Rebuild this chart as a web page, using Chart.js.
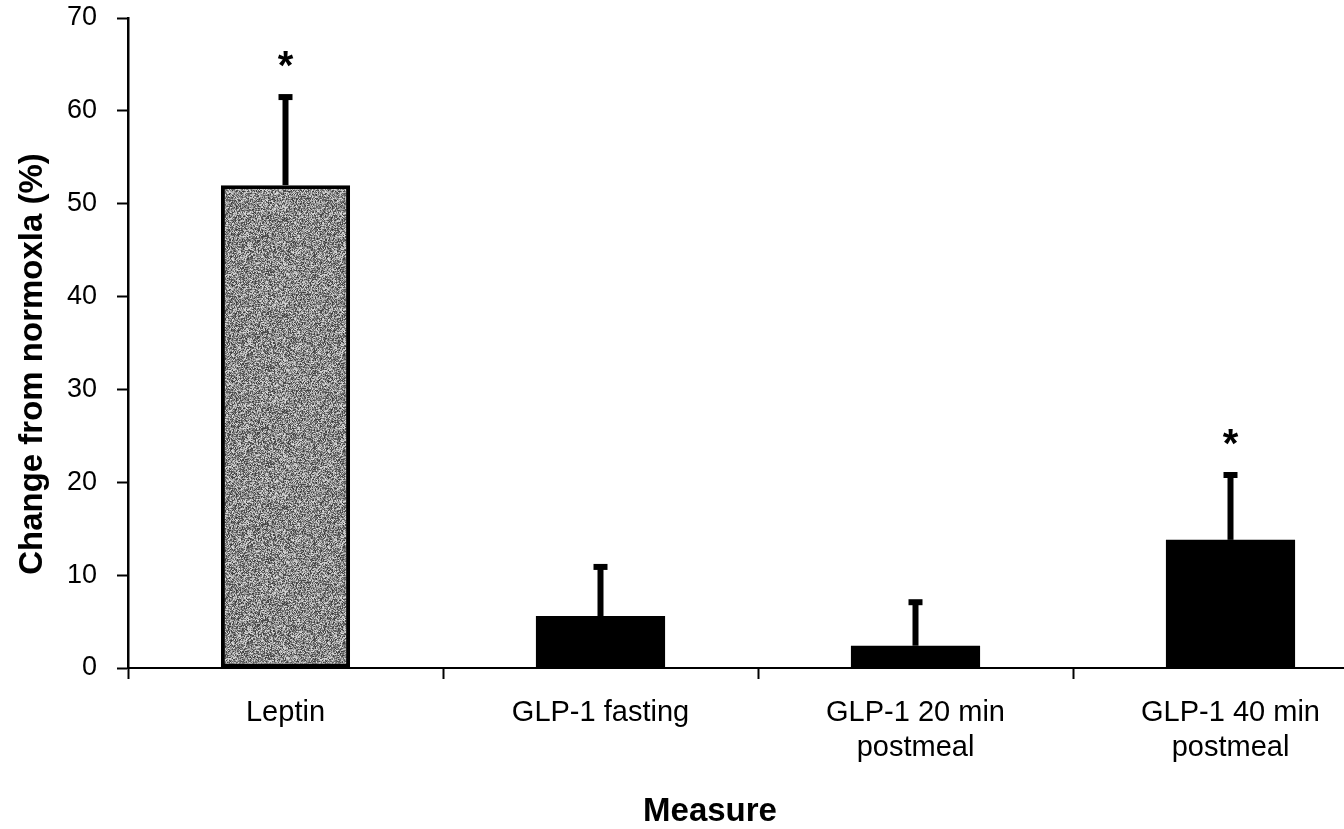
<!DOCTYPE html>
<html>
<head>
<meta charset="utf-8">
<script src="https://cdn.jsdelivr.net/npm/chart.js@4/dist/chart.umd.min.js"></script>
<style>
  html, body { margin: 0; padding: 0; background: #fff; overflow: hidden; }
</style>
</head>
<body>
<canvas id="measureChart" width="1388" height="829"></canvas>
<script>
const categories = ['Leptin', 'GLP-1 fasting', ['GLP-1 20 min', 'postmeal'], ['GLP-1 40 min', 'postmeal']];
const changeValues = [52.0, 5.6, 2.4, 13.8];   // % change from normoxia
const errorValues = [9.7, 5.5, 4.9, 7.2];      // upward error bars
const significance = ['*', '', '', '*'];
const yTicks = [0, 10, 20, 30, 40, 50, 60, 70];

const FONT = '"Liberation Sans", Arial, Helvetica, sans-serif';

// grey speckled fill for the leptin bar (just a texture)
function speckle() {
  const c = document.createElement('canvas');
  c.width = c.height = 96;
  const g = c.getContext('2d');
  let s = 12345;
  for (let y = 0; y < 96; y++) {
    for (let x = 0; x < 96; x++) {
      s = (s * 1103515245 + 12345) & 0x7fffffff;
      const v = 55 + ((s >> 12) % 170);
      g.fillStyle = `rgb(${v},${v},${v})`;
      g.fillRect(x, y, 1, 1);
    }
  }
  return g.createPattern(c, 'repeat');
}

const errorBars = {
  id: 'errorBars',
  afterDatasetsDraw(chart) {
    const ctx = chart.ctx;
    const yScale = chart.scales.y;
    const meta = chart.getDatasetMeta(0);
    ctx.save();
    ctx.strokeStyle = '#000';
    meta.data.forEach((bar, i) => {
      const top = yScale.getPixelForValue(changeValues[i] + errorValues[i]);
      ctx.lineWidth = 6;
      ctx.beginPath();
      ctx.moveTo(bar.x, bar.y);
      ctx.lineTo(bar.x, top);
      ctx.stroke();
      ctx.beginPath();
      ctx.moveTo(bar.x - 7, top + 2);
      ctx.lineTo(bar.x + 7, top + 2);
      ctx.stroke();
      if (significance[i]) {
        ctx.fillStyle = '#000';
        ctx.font = 'bold 40px ' + FONT;
        ctx.textAlign = 'center';
        ctx.textBaseline = 'alphabetic';
        ctx.fillText(significance[i], bar.x, top - 39 + 23);
      }
    });
    ctx.restore();
  }
};

const axisTitles = {
  id: 'axisTitles',
  afterDraw(chart) {
    const ctx = chart.ctx;
    const area = chart.chartArea;
    ctx.save();
    ctx.fillStyle = '#000';
    ctx.font = 'bold 33px ' + FONT;
    ctx.textAlign = 'center';
    ctx.textBaseline = 'alphabetic';
    ctx.fillText('Measure', 710, chart.height - 8);
    ctx.translate(42, (area.top + area.bottom) / 2 + 21);
    ctx.rotate(-Math.PI / 2);
    ctx.fillText('Change from normoxla (%)', 0, 0);
    ctx.restore();
  }
};

const ctx = document.getElementById('measureChart').getContext('2d');
const measureChart = new Chart(ctx, {
  type: 'bar',
  data: {
    labels: categories,
    datasets: [{
      data: changeValues,
      backgroundColor: [speckle(), '#000', '#000', '#000'],
      borderColor: '#000',
      borderWidth: [4, 0, 0, 0],
      borderSkipped: false,
      categoryPercentage: 1,
      barPercentage: 0.41
    }]
  },
  options: {
    responsive: false,
    animation: false,
    devicePixelRatio: 1,
    layout: { padding: { top: 18, right: 0, bottom: 0, left: 0 } },
    plugins: {
      legend: { display: false },
      tooltip: { enabled: false }
    },
    scales: {
      x: {
        grid: {
          offset: true,
          drawOnChartArea: false,
          tickLength: 11,
          tickWidth: 2,
          tickColor: '#000'
        },
        border: { color: '#000', width: 2 },
        ticks: {
          color: '#000',
          padding: 17,
          maxRotation: 0,
          font: { family: FONT, size: 29, lineHeight: 1.2 }
        },
        afterFit(scale) { scale.height = 161; }
      },
      y: {
        min: 0,
        max: 70,
        afterBuildTicks(scale) { scale.ticks = yTicks.map(v => ({ value: v })); },
        grid: {
          drawOnChartArea: false,
          tickLength: 11,
          tickWidth: 2,
          tickColor: '#000'
        },
        border: { color: '#000', width: 2.5 },
        ticks: {
          color: '#000',
          padding: 20,
          font: { family: FONT, size: 27 }
        },
        afterFit(scale) {
          scale.width = 128;
          scale.paddingTop = 0;
          scale.paddingBottom = 0;
        }
      }
    }
  },
  plugins: [errorBars, axisTitles]
});
</script>
</body>
</html>
